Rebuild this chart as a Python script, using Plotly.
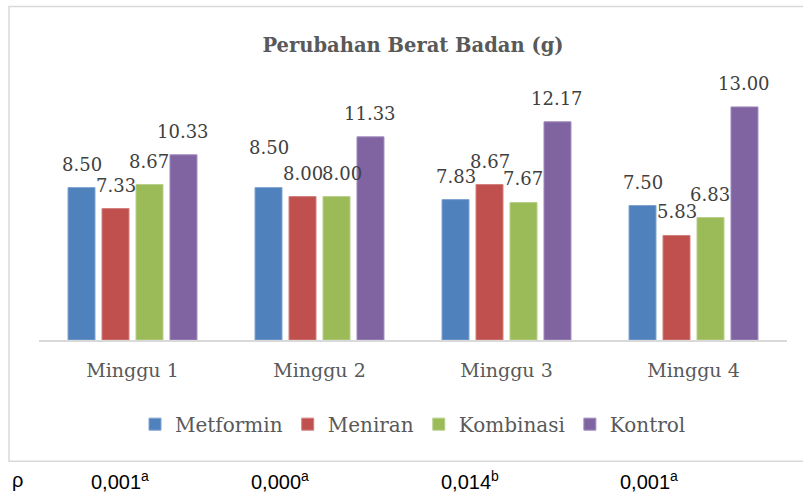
import plotly.graph_objects as go

categories = ["Minggu 1", "Minggu 2", "Minggu 3", "Minggu 4"]
metformin = [8.50, 8.50, 7.83, 7.50]
meniran = [7.33, 8.00, 8.67, 5.83]
kombinasi = [8.67, 8.00, 7.67, 6.83]
kontrol = [10.33, 11.33, 12.17, 13.00]
series_names = ["Metformin", "Meniran", "Kombinasi", "Kontrol"]
p_values = ["0,001", "0,000", "0,014", "0,001"]
p_marks = ["a", "a", "b", "a"]

colors = ["#4F81BD", "#C0504D", "#9BBB59", "#8064A2"]
edge = ["#7FA3CF", "#D27F7D", "#B7CF88", "#A08BBE"]

# label nudges (px) used by the original to avoid collisions: (series, category) -> (dx, dy)
label_nudge = {(0, 1): (0, 17), (2, 1): (6, 0)}

W, H = 803, 493
L, R = 39, 787
BASE, TOP = 340, 89.4
pw, ph = R - L, BASE - TOP
BARGAP = 0.273
GROUPGAP = 0.206

def px(x):
    return (x - L) / pw

def py(y):
    return (BASE - y) / ph

all_series = [metformin, meniran, kombinasi, kontrol]
fig = go.Figure()
for name, vals, c, e in zip(series_names, all_series, colors, edge):
    fig.add_trace(go.Bar(
        x=categories, y=vals, name=name,
        marker=dict(color=c, line=dict(color=e, width=1)),
        cliponaxis=False, hoverinfo="skip",
    ))

slot = pw / len(categories) * (1 - BARGAP) / len(series_names)
for i, vals in enumerate(all_series):
    off = (i - (len(series_names) - 1) / 2) * slot
    for j, (cat, v) in enumerate(zip(categories, vals)):
        dx, dy = label_nudge.get((i, j), (0, 0))
        fig.add_annotation(x=cat, y=v, xref="x", yref="y", text=f"{v:.2f}",
                           showarrow=False, xanchor="center", yanchor="bottom",
                           xshift=off + dx, yshift=11 + dy,
                           font=dict(family="DejaVu Serif", size=18, color="#404040"))

fig.update_layout(
    width=W, height=H,
    margin=dict(l=L, r=W - R, t=TOP, b=H - BASE, pad=0, autoexpand=False),
    paper_bgcolor="white", plot_bgcolor="white",
    barmode="group", bargap=BARGAP, bargroupgap=GROUPGAP,
    font=dict(family="DejaVu Serif", color="#595959"),
    title=dict(text="<b>Perubahan Berat Badan (g)</b>", x=0.5, xref="paper", xanchor="center",
               y=1 - 45 / H, yref="container", yanchor="middle",
               font=dict(family="DejaVu Serif", size=19.5, color="#595959")),
    legend=dict(orientation="h", x=0.5, xanchor="center", y=py(424), yanchor="middle",
                font=dict(family="DejaVu Serif", size=20, color="#595959"),
                itemwidth=30, traceorder="normal"),
    xaxis=dict(showline=True, linecolor="#D9D9D9", linewidth=2, ticks="",
               tickfont=dict(family="DejaVu Serif", size=19, color="#595959"),
               ticklabelstandoff=12, showgrid=False),
    yaxis=dict(range=[0, 14], visible=False, showgrid=False, zeroline=False),
)

# chart frame: top, left and bottom edges (right edge lies beyond the canvas)
x0f, x1f, ytf, ybf = px(9), px(830), py(7), py(461)
fig.add_shape(type="path", xref="paper", yref="paper",
              path=f"M {x1f} {ytf} L {x0f} {ytf} L {x0f} {ybf} L {x1f} {ybf}",
              line=dict(color="#D9D9D9", width=1.5), layer="below")

fig.add_annotation(text="ρ", xref="paper", yref="paper", x=px(10), y=py(480),
                   xanchor="left", yanchor="middle", showarrow=False,
                   font=dict(family="Liberation Sans", size=20, color="#000000"))
p_x = [89, 249, 439, 618]
for xpos, pv, mk in zip(p_x, p_values, p_marks):
    fig.add_annotation(text=f"{pv}<sup>{mk}</sup>", xref="paper", yref="paper",
                       x=px(xpos), y=py(480), xanchor="left", yanchor="middle", showarrow=False,
                       font=dict(family="Liberation Sans", size=20, color="#000000"))

fig.write_html("out.html", config={"displayModeBar": False},
               post_script="document.body.style.margin='0';document.body.style.overflow='hidden';")
